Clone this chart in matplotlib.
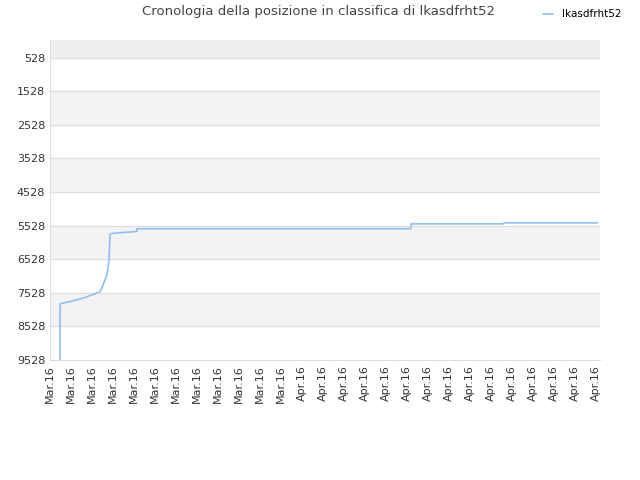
import matplotlib.pyplot as plt

# position history (x in ticks, value = rank)
xs = [0.48, 0.48, 1.0, 1.6, 2.38, 2.52, 2.71, 2.81, 2.86, 2.90, 3.24, 3.95, 4.14, 4.14, 17.19, 17.19, 21.62, 21.62, 26.05]
ys = [9528, 7858, 7780, 7680, 7500, 7300, 7000, 6550, 5800, 5770, 5740, 5710, 5700, 5620, 5620, 5475, 5475, 5445, 5445]
labels = ['Mar.16'] * 12 + ['Apr.16'] * 15
yticks = [528, 1528, 2528, 3528, 4528, 5528, 6528, 7528, 8528, 9528]

fig = plt.figure(figsize=(6.4, 4.8), dpi=100)
ax = fig.add_axes([50/640, 120/480, 550/640, 320/480])

# alternating bands
ax.axhspan(0, 528, color='#eeeeee', zorder=0)
for i, t in enumerate(yticks[:-1]):
    if i % 2 == 1:
        ax.axhspan(t, t + 1000, color='#f3f3f3', zorder=0)
for t in yticks:
    ax.axhline(t, color='#dddddd', lw=0.8, zorder=1)

ax.plot(xs, ys, color='#90c0f0', lw=1.2, label='lkasdfrht52', zorder=2)

ax.set_ylim(9528, 0)
ax.set_xlim(0, 550/21)
ax.set_yticks(yticks)
ax.set_xticks(range(len(labels)))
ax.set_xticklabels(labels, rotation=90)
ax.tick_params(labelsize=8, colors='#333333', length=0)
for s in ['top', 'right']:
    ax.spines[s].set_visible(False)
ax.spines['left'].set_color('#dddddd')
ax.spines['bottom'].set_color('#dddddd')

fig.text(318/640, 1 - 12/480, 'Cronologia della posizione in classifica di lkasdfrht52',
         ha='center', va='center', fontsize=9.5, color='#444444')
fig.legend(loc='upper right', bbox_to_anchor=(0.985, 1.0), frameon=False, fontsize=7.5,
           handlelength=1.0, handletextpad=0.8)

fig.savefig('out.png')
